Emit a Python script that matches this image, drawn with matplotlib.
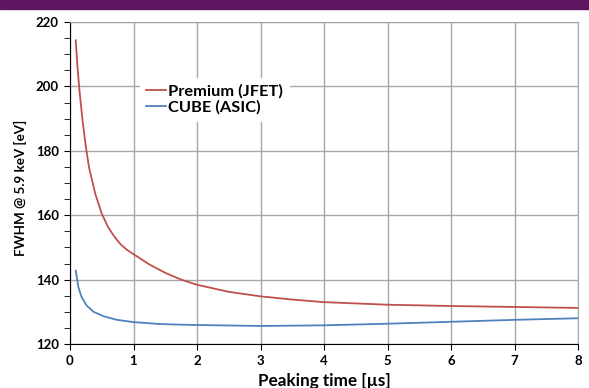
import matplotlib.pyplot as plt
from matplotlib.patches import Rectangle
from matplotlib.ticker import MultipleLocator

plt.rcParams['font.family'] = ['Lato', 'DejaVu Sans']
plt.rcParams['font.weight'] = 'bold'

# peaking time [us]
t_jfet = [0.09, 0.12, 0.15, 0.2, 0.25, 0.3, 0.4, 0.5, 0.6, 0.7, 0.8, 0.9, 1.0, 1.25, 1.5, 1.75,
          2.0, 2.5, 3.0, 3.5, 4.0, 5.0, 6.0, 7.0, 8.0]
fwhm_jfet = [214.3, 205.5, 198.5, 189, 181.2, 174.8, 166.5, 160.5, 156.3, 153.3, 150.9, 149.2, 147.9, 144.7, 142.1, 140.0,
             138.4, 136.2, 134.8, 133.8, 133.0, 132.2, 131.8, 131.5, 131.2]

t_asic = [0.09, 0.11, 0.13, 0.18, 0.26, 0.37, 0.53, 0.74, 1.0, 1.42, 1.75, 2.0, 3.0, 4.0, 5.0, 6.0, 7.0, 8.0]
fwhm_asic = [142.8, 140.5, 137.8, 134.7, 132.0, 130.0, 128.6, 127.5, 126.8, 126.2, 126.0, 125.9, 125.6, 125.8,
             126.3, 126.9, 127.5, 128.0]

fig = plt.figure(figsize=(5.89, 3.88), dpi=100)
fig.patches.append(Rectangle((0, 1 - 9/388), 1, 9/388, transform=fig.transFigure,
                             color='#5E1560', zorder=0))

ax = fig.add_axes([70/589, 44/388, 508/589, 322/388])
ax.plot(t_jfet, fwhm_jfet, color='#C0504D', lw=1.3, label='Premium (JFET)')
ax.plot(t_asic, fwhm_asic, color='#4F81BD', lw=1.3, label='CUBE (ASIC)')

ax.set_xlim(0, 8)
ax.set_ylim(120, 220)
ax.xaxis.set_major_locator(MultipleLocator(1))
ax.yaxis.set_major_locator(MultipleLocator(20))
ax.yaxis.set_minor_locator(MultipleLocator(5))
ax.grid(True, which='major', color='#A6A6A6', lw=1)
ax.set_axisbelow(True)
for s in ['top', 'right']:
    ax.spines[s].set_color('#A6A6A6')
for s in ['left', 'bottom']:
    ax.spines[s].set_color('black')
ax.tick_params(axis='both', which='major', length=4, labelsize=9.5, pad=4)
ax.tick_params(axis='y', which='minor', length=4)
ax.tick_params(top=False, right=False)

ax.set_xlabel('Peaking time [µs]', fontsize=12.3, fontweight='bold', labelpad=4)
ax.set_ylabel('FWHM @ 5.9 keV [eV]', fontsize=9.6, fontweight='bold')
ax.yaxis.set_label_coords(-0.085, 0.485)

leg = ax.legend(loc='upper left', bbox_to_anchor=(0.122, 0.85), frameon=True,
                fontsize=11.8, handlelength=1.2, handletextpad=0.15, labelspacing=0.1,
                borderpad=0.35, fancybox=False)
leg.get_frame().set_edgecolor('white')
leg.get_frame().set_facecolor('white')
leg.get_frame().set_alpha(1)

fig.savefig('out.png', dpi=100)
